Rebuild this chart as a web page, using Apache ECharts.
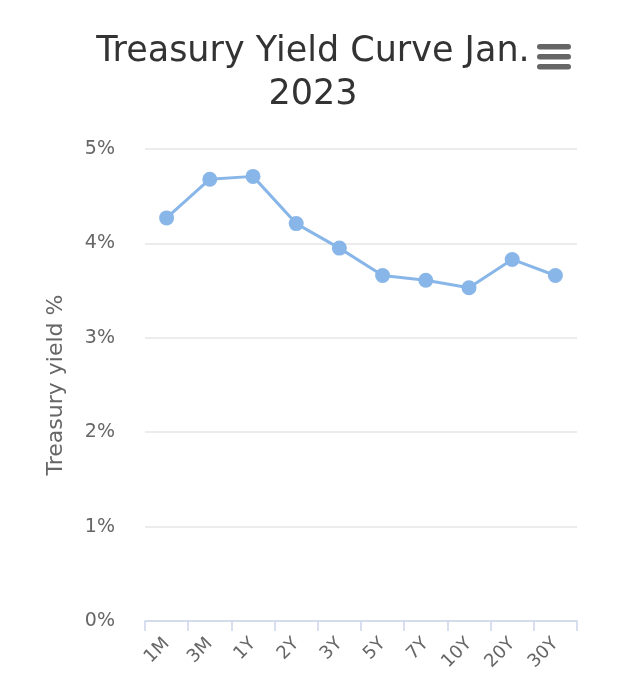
<!DOCTYPE html>
<html><head><meta charset="utf-8">
<script src="https://cdn.jsdelivr.net/npm/echarts@6/dist/echarts.min.js"></script>
<style>html,body{margin:0;padding:0;background:#fff}#c{width:638px;height:690px}</style>
</head><body><div id="c"></div>
<script>
var categories = ['1M','3M','1Y','2Y','3Y','5Y','7Y','10Y','20Y','30Y'];
var yields = [4.27, 4.68, 4.71, 4.21, 3.95, 3.66, 3.61, 3.53, 3.83, 3.66];
var titleText = 'Treasury Yield Curve Jan.\n2023';
var yAxisName = 'Treasury yield %';

var FONT = '"DejaVu Sans", Verdana, sans-serif';
var chart = echarts.init(document.getElementById('c'), null, {renderer:'canvas'});
chart.setOption({
  animation:false,
  title:{text:titleText, left:308, top:25, textAlign:'center',
    textStyle:{fontFamily:FONT, fontSize:35, fontWeight:'normal', color:'#333', lineHeight:43}},
  graphic:[
    {type:'rect', shape:{x:537,y:44,width:34,height:5.5,r:2.75}, style:{fill:'#666'}},
    {type:'rect', shape:{x:537,y:54,width:34,height:5.5,r:2.75}, style:{fill:'#666'}},
    {type:'rect', shape:{x:537,y:64,width:34,height:5.5,r:2.75}, style:{fill:'#666'}}
  ],
  grid:{left:145, right:61, top:149, bottom:69, containLabel:false},
  xAxis:{type:'category', data:categories, boundaryGap:true,
    axisLine:{lineStyle:{color:'#ccd6eb', width:1.5}},
    axisTick:{show:true, alignWithLabel:false, interval:0, length:10, lineStyle:{color:'#ccd6eb', width:1.5}},
    axisLabel:{rotate:45, interval:0, fontFamily:FONT, fontSize:18, color:'#666', margin:20}},
  yAxis:{type:'value', min:0, max:5, interval:1,
    name:yAxisName, nameLocation:'middle', nameGap:78, nameRotate:90,
    nameTextStyle:{fontFamily:FONT, fontSize:22, color:'#666'},
    axisLabel:{formatter:'{value}%', fontFamily:FONT, fontSize:19, color:'#666', margin:30},
    splitLine:{lineStyle:{color:'#e6e6e6', width:1.5}},
    axisLine:{show:false}, axisTick:{show:false}},
  series:[{type:'line', data:yields, symbol:'circle', symbolSize:15,
    lineStyle:{color:'#88b6e8', width:3}, itemStyle:{color:'#88b6e8'}}]
});
</script></body></html>
